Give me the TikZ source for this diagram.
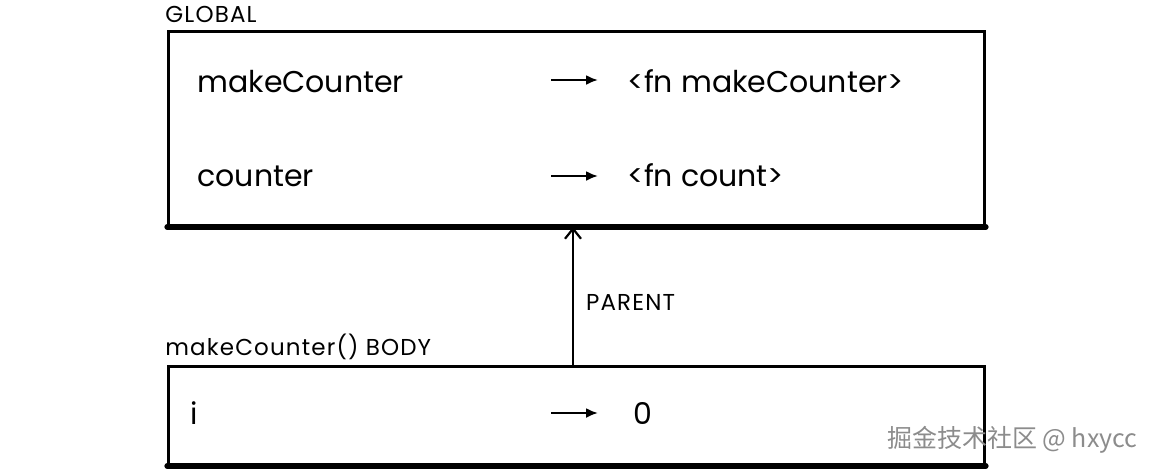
\documentclass[tikz,border=0pt]{standalone}
\usepackage{fontspec}
\setmainfont{Poppins}
\newfontfamily\lblfont[LetterSpace=5]{Poppins}
\newfontfamily\cjkfont{Noto Sans CJK SC}
\usetikzlibrary{arrows.meta,positioning}

\tikzset{
    frame/.style={draw,line width=1.5pt,minimum width=408pt,inner sep=0pt,anchor=north west},
    floor/.style={line width=2.6pt,line cap=round},
    title/.style={anchor=base west,inner sep=0pt,font=\lblfont\fontsize{11.5}{14}\selectfont},
    cell/.style={anchor=base west,inner sep=0pt,font=\fontsize{15}{18}\selectfont},
    ptr/.style={-{Latex[length=6pt,width=5pt]},line width=1.1pt},
    up/.style={-{Straight Barb[length=5pt,width=8pt]},line width=1.1pt}
}

\begin{document}
\begin{tikzpicture}[x=0.5pt,y=-0.5pt]
    \useasboundingbox (0,0) rectangle (1152,472);
    \node[frame,minimum height=97pt] (global) at (167,30) {};
    \node[frame,minimum height=49pt] (body) at (167,365) {};
    \draw[floor] (global.south west) -- (global.south east);
    \draw[floor] (body.south west) -- (body.south east);
    \node[title] (global_lbl) at (165,22) {GLOBAL};
    \node[title] (body_lbl) at (165,355) {makeCounter() BODY};

    \node[cell] (make) at (197,92) {makeCounter};
    \node[cell] (make_v) at (627,92) {<fn makeCounter>};
    \node[cell] (count) at (197,186) {counter};
    \node[cell] (count_v) at (627,186) {<fn count>};
    \node[cell] (i) at (190,424) {i};
    \node[cell] (i_v) at (633,424) {0};

    \coordinate (make_p) at (551,80);
    \coordinate (count_p) at (551,176);
    \coordinate (i_p) at (551,413);
    \coordinate (par) at (573,300);

    \path[ptr]
    (make_p) edge (make_p -| 598,0)
    (count_p) edge (count_p -| 598,0)
    (i_p) edge (i_p -| 598,0);
    \draw[up] (body.north -| par) -- (global.south -| par)
        node [pos=0.45,right=6pt,title,anchor=west] {PARENT};

    \node[anchor=west,text=black!45,font=\cjkfont\fontsize{12.5}{15}\selectfont] (mark) at (880,440) {掘金技术社区 @ hxycc};
\end{tikzpicture}
\end{document}
